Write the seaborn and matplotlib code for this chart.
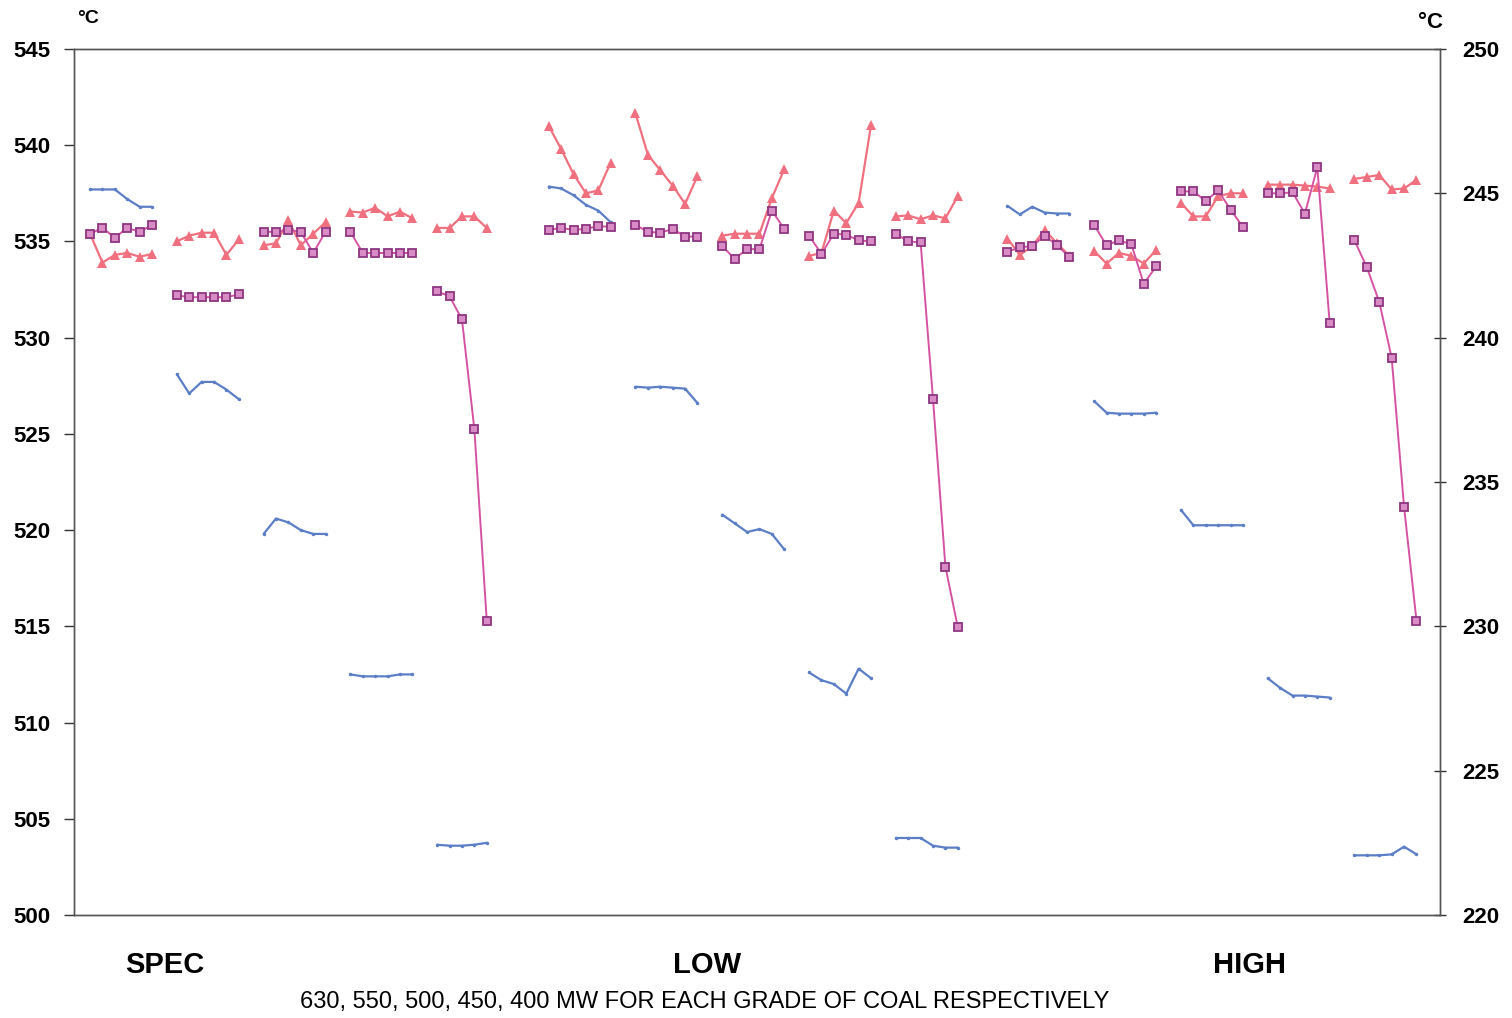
import pandas as pd
import matplotlib
matplotlib.use("Agg")
import matplotlib.pyplot as plt
import seaborn as sns

# --- dane: 3 gatunki wegla x 5 obciazen (630, 550, 500, 450, 400 MW) ---
grades = ["SPEC", "LOW", "HIGH"]
loads = [630, 550, 500, 450, 400]

spec_blue = [[537.7, 537.7, 537.7, 537.2, 536.8, 536.8],
             [528.1, 527.1, 527.7, 527.7, 527.3, 526.8],
             [519.8, 520.6, 520.4, 520.0, 519.8, 519.8],
             [512.5, 512.4, 512.4, 512.4, 512.5, 512.5],
             [503.65, 503.6, 503.6, 503.65, 503.75]]
spec_tri = [[535.4, 533.9, 534.3, 534.4, 534.2, 534.35],
            [535.0, 535.3, 535.45, 535.45, 534.3, 535.1],
            [534.8, 534.9, 536.1, 534.8, 535.4, 536.0],
            [536.55, 536.5, 536.75, 536.3, 536.55, 536.2],
            [535.7, 535.7, 536.3, 536.3, 535.7]]
spec_sq = [[535.4, 535.7, 535.2, 535.7, 535.5, 535.85],
           [532.2, 532.1, 532.1, 532.1, 532.1, 532.25],
           [535.5, 535.5, 535.6, 535.5, 534.4, 535.5],
           [535.5, 534.4, 534.4, 534.4, 534.4, 534.4],
           [532.4, 532.15, 530.95, 525.25, 515.3]]

low_blue = [[537.85, 537.75, 537.4, 536.9, 536.6, 536.0],
            [527.45, 527.4, 527.45, 527.4, 527.35, 526.6],
            [520.8, 520.35, 519.9, 520.05, 519.8, 519.0],
            [512.6, 512.2, 512.0, 511.5, 512.8, 512.3],
            [504.0, 504.0, 504.0, 503.6, 503.5, 503.5]]
low_tri = [[541.0, 539.8, 538.5, 537.5, 537.65, 539.1],
           [541.65, 539.5, 538.7, 537.9, 536.95, 538.4],
           [535.3, 535.4, 535.4, 535.4, 537.25, 538.75],
           [534.25, 534.4, 536.6, 535.95, 537.0, 541.05],
           [536.3, 536.35, 536.15, 536.35, 536.2, 537.35]]
low_sq = [[535.6, 535.7, 535.6, 535.65, 535.8, 535.75],
          [535.85, 535.5, 535.45, 535.65, 535.25, 535.25],
          [534.75, 534.1, 534.6, 534.6, 536.6, 535.65],
          [535.3, 534.35, 535.4, 535.35, 535.05, 535.0],
          [535.4, 535.0, 534.95, 526.8, 518.1, 514.95]]

high_blue = [[536.85, 536.4, 536.8, 536.5, 536.45, 536.45],
             [526.7, 526.1, 526.05, 526.05, 526.05, 526.1],
             [521.05, 520.25, 520.25, 520.25, 520.25, 520.25],
             [512.3, 511.8, 511.4, 511.4, 511.35, 511.3],
             [503.1, 503.1, 503.1, 503.15, 503.55, 503.15]]
high_tri = [[535.15, 534.3, 534.75, 535.6, 534.9, 534.25],
            [534.5, 533.85, 534.4, 534.25, 533.85, 534.55],
            [537.0, 536.3, 536.3, 537.35, 537.5, 537.5],
            [537.95, 537.95, 537.95, 537.9, 537.85, 537.75],
            [538.25, 538.35, 538.45, 537.7, 537.75, 538.2]]
high_sq = [[534.45, 534.7, 534.75, 535.3, 534.8, 534.2],
           [535.85, 534.8, 535.05, 534.85, 532.8, 533.7],
           [537.6, 537.6, 537.1, 537.65, 536.65, 535.75],
           [537.5, 537.5, 537.55, 536.45, 538.85, 530.75],
           [535.05, 533.65, 531.85, 528.95, 521.2, 515.3]]

series = {
    "blue": [spec_blue, low_blue, high_blue],
    "tri": [spec_tri, low_tri, high_tri],
    "sq": [spec_sq, low_sq, high_sq],
}

rows = []
for name, per_grade in series.items():
    for g, groups in enumerate(per_grade):
        for l, vals in enumerate(groups):
            for i, v in enumerate(vals):
                rows.append({"series": name, "group": g * 5 + l,
                             "x": g * 37 + l * 7 + i, "value": v})
df = pd.DataFrame(rows)

sns.set_theme(style="white")
plt.rcParams["font.family"] = ["Liberation Sans", "DejaVu Sans"]
plt.rcParams["text.color"] = "black"
plt.rcParams["ytick.color"] = "black"

fig = plt.figure(figsize=(15.12, 10.18), dpi=100)
ax = fig.add_axes([0.0489, 0.1012, 0.9035, 0.8507])

styles = {
    "blue": dict(color="#5b7ec6", marker="o", markersize=2.5, linewidth=1.6,
                 markeredgewidth=0),
    "tri": dict(color="#f0707f", marker="^", markersize=7.5, linewidth=1.6,
                markeredgewidth=0),
    "sq": dict(color="#d653a3", marker="s", markersize=5.5, linewidth=1.4,
               markerfacecolor="#d98bc6", markeredgecolor="#8e3580",
               markeredgewidth=1.3),
}
for name in ["blue", "tri", "sq"]:
    sns.lineplot(data=df[df["series"] == name], x="x", y="value", units="group",
                 estimator=None, ax=ax, legend=False, **styles[name])

ax.set_xlim(-1.3, 108.9)
ax.set_ylim(500, 545)
ax.set_yticks(range(500, 546, 5))
ax.set_xticks([])
ax.set_xlabel("")
ax.set_ylabel("")
ax.tick_params(axis="y", which="both", left=True, length=7, width=1,
               color="#333333", labelsize=16, labelcolor="black", pad=10)
for lab in ax.get_yticklabels():
    lab.set_fontweight("bold")
for sp in ax.spines.values():
    sp.set_color("#555555")
    sp.set_linewidth(1.0)

ax2 = ax.twinx()
ax2.set_ylim(220, 250)
ax2.set_yticks(range(220, 251, 5))
ax2.tick_params(axis="y", right=True, length=8, width=1, direction="inout",
                color="#333333", labelsize=16, labelcolor="black", pad=12)
for lab in ax2.get_yticklabels():
    lab.set_fontweight("bold")
for sp in ax2.spines.values():
    sp.set_color("#555555")
    sp.set_linewidth(1.0)
ax2.grid(False)

# nazwy gatunkow pod osia
label_x = [6.05, 49.8, 93.5]
for gx, gname in zip(label_x, grades):
    ax.text(gx, -0.058, gname, transform=ax.get_xaxis_transform(),
            ha="center", va="center", fontsize=21, fontweight="bold",
            color="black")

fig.text(0.466, 0.0157,
         ", ".join(str(m) for m in loads) + " MW FOR EACH GRADE OF COAL RESPECTIVELY",
         ha="center", va="center", fontsize=17, color="black")
fig.text(0.058, 0.982, "°C", ha="center", va="center", fontsize=14,
         fontweight="bold", color="black")
fig.text(0.946, 0.978, "°C", ha="center", va="center", fontsize=16,
         fontweight="bold", color="black")

fig.savefig("out.png", dpi=100)
